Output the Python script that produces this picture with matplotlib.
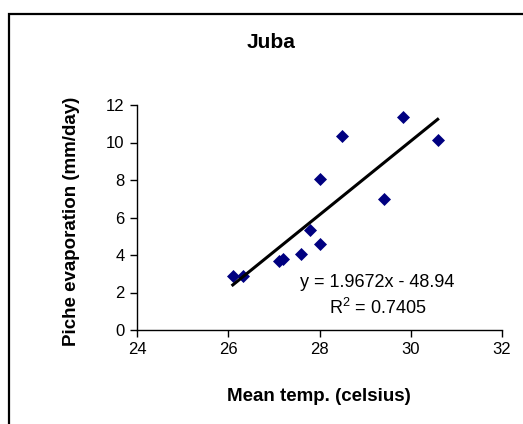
import numpy as np
import matplotlib as mpl
mpl.use('agg')
import matplotlib.pyplot as plt
from matplotlib.patches import Rectangle

plt.rcParams['font.family'] = ['Liberation Sans', 'DejaVu Sans']

## data
temp = [26.1, 26.32, 27.11, 27.21, 27.6, 27.79, 28.0, 28.0, 28.49, 29.42, 29.83, 30.59]
evap = [2.88, 2.88, 3.68, 3.77, 4.04, 5.32, 4.6, 8.05, 10.35, 6.97, 11.34, 10.13]
slope, intercept = 1.9672, -48.94
r2 = 0.7405
xticks = [24, 26, 28, 30, 32]
yticks = [0, 2, 4, 6, 8, 10, 12]

##--##--##--  create figure  --##--##--##
fig = plt.figure(figsize=(5.23, 4.24), dpi=100)

# outer chart border (runs off the right / bottom edge)
fig.patches.append(Rectangle((9/523, -0.1), 1.2, 1 - 14/424 + 0.1, transform=fig.transFigure,
                             fill=False, edgecolor='black', linewidth=1.6))

ax = fig.add_axes([137/523, 1 - 330/424, 365/523, 225/424])
ax.scatter(temp, evap, marker='D', s=44, color='#000080', zorder=3, linewidths=0)

xfit = np.array([min(temp), max(temp)])
ax.plot(xfit, slope * xfit + intercept, color='black', linewidth=2.2, zorder=4)

ax.set_xlim(24, 32)
ax.set_ylim(0, 12)
ax.set_xticks(xticks)
ax.set_yticks(yticks)
ax.tick_params(axis='both', direction='out', length=5, width=1.0, labelsize=12, pad=4)
ax.spines['top'].set_visible(False)
ax.spines['right'].set_visible(False)
ax.spines['left'].set_linewidth(1.0)
ax.spines['bottom'].set_linewidth(1.0)

ax.set_xlabel('Mean temp. (celsius)', fontsize=13.5, fontweight='bold')
ax.set_ylabel('Piche evaporation (mm/day)', fontsize=13.5, fontweight='bold')
ax.xaxis.set_label_coords(0.497, -0.296)
ax.yaxis.set_label_coords(-0.179, 0.482)
ax.xaxis.label.set_va('center')
ax.yaxis.label.set_va('center')

fig.text(271.5/523, 1 - 43/424, 'Juba', fontsize=15, fontweight='bold', ha='center', va='center')

ax.text(29.27, 2.52, 'y = %.4fx - %.2f' % (slope, -intercept), fontsize=13, ha='center', va='center')
ax.text(29.27, 1.17, '$\\mathregular{R^2}$ = %.4f' % r2, fontsize=13, ha='center', va='center')

fig.savefig('out.png', dpi=100)
